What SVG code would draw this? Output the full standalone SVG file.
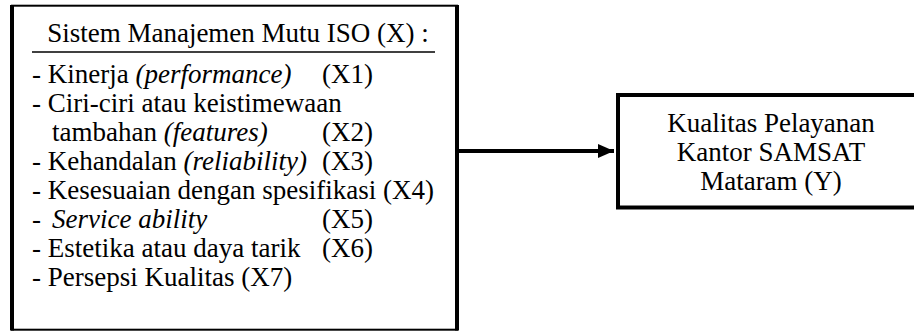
<svg xmlns="http://www.w3.org/2000/svg" width="914" height="331" viewBox="0 0 914 331">
<style>
text{font-family:"Liberation Serif","Times New Roman",serif;font-size:27px;fill:#000}
.i{font-style:italic}
.box{fill:#fff;stroke:#000}
.conn{stroke:#000;stroke-width:4;fill:none}
</style>
<defs>
<marker id="ah" markerUnits="userSpaceOnUse" markerWidth="20" markerHeight="16" refX="16" refY="7" orient="auto">
<path d="M0,0 L16,7 L0,14 Z" fill="#000"/>
</marker>
</defs>
<rect width="914" height="331" fill="#fff"/>
<g id="node-x">
<rect class="box" x="12" y="5.7" width="445" height="324" stroke-width="2"/>
<line x1="12" y1="5" x2="12" y2="330.5" stroke="#000" stroke-width="4"/>
<line x1="457" y1="5" x2="457" y2="330.5" stroke="#000" stroke-width="4"/>
<text x="238" y="42" text-anchor="middle">Sistem Manajemen Mutu ISO (X) :</text>
<line x1="32" y1="52" x2="435" y2="52" stroke="#000" stroke-width="1.5"/>
<text x="32" y="83">- Kinerja <tspan class="i">(performance)</tspan></text><text x="322" y="83">(X1)</text>
<text x="32" y="112">- Ciri-ciri atau keistimewaan</text>
<text x="52" y="141">tambahan <tspan class="i">(features)</tspan></text><text x="322" y="141">(X2)</text>
<text x="32" y="170">- Kehandalan <tspan class="i">(reliability)</tspan></text><text x="322" y="170">(X3)</text>
<text x="32" y="199">- Kesesuaian dengan spesifikasi (X4)</text>
<text x="32" y="228">- </text><text x="52" y="228" class="i">Service ability</text><text x="322" y="228">(X5)</text>
<text x="32" y="257">- Estetika atau daya tarik</text><text x="322" y="257">(X6)</text>
<text x="32" y="286">- Persepsi Kualitas (X7)</text>
</g>
<g id="node-y">
<rect class="box" x="618" y="95" width="300" height="112.5" stroke-width="4"/>
<text x="771" y="132" text-anchor="middle">Kualitas Pelayanan</text>
<text x="771" y="161" text-anchor="middle">Kantor SAMSAT</text>
<text x="771" y="190" text-anchor="middle">Mataram (Y)</text>
</g>
<g id="connectors">
<line class="conn" x1="457" y1="151" x2="614" y2="151" marker-end="url(#ah)"/>
</g>
</svg>
